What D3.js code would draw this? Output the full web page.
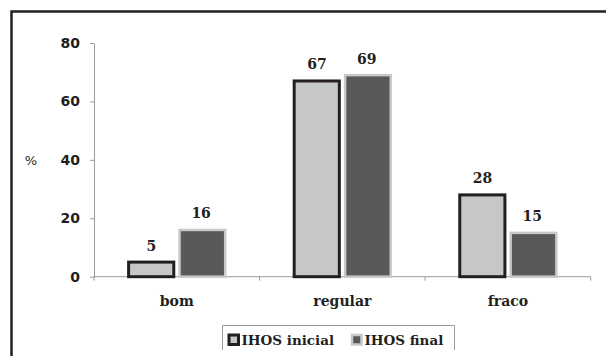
<!DOCTYPE html>
<html>
<head>
<meta charset="utf-8">
<script src="https://cdn.jsdelivr.net/npm/d3@7"></script>
<style>
  body { margin: 0; background: #fff; }
  svg { display: block; }
</style>
</head>
<body>
<svg width="606" height="356"></svg>
<script>
var categories = ['bom', 'regular', 'fraco'];
var series = ['IHOS inicial', 'IHOS final'];
var inicial = [5, 67, 28];
var final = [16, 69, 15];
var yTicks = [0, 20, 40, 60, 80];

var svg = d3.select('svg');
var ink = '#231f20';

// outer frame (only top and left edges visible)
svg.append('path')
   .attr('d', 'M11.5,356 L11.5,11.5 L606,11.5')
   .attr('fill', 'none')
   .attr('stroke', ink)
   .attr('stroke-width', 2.5);

var y = d3.scaleLinear().domain([0, 80]).range([276.7, 43]);
var x0 = d3.scaleBand().domain(categories).range([94, 590.7]);
var bw = x0.bandwidth();
var x1 = d3.scaleBand().domain(series).range([bw * 0.2, bw * 0.8]);
var sw = x1.bandwidth();

// y axis
var yAxis = svg.append('g')
   .attr('transform', 'translate(94,0)')
   .call(d3.axisLeft(y).tickValues(yTicks).tickSize(4).tickSizeOuter(0).tickPadding(10));
yAxis.selectAll('path, line').attr('stroke', '#9a9a9a');
yAxis.selectAll('text')
     .attr('font-family', 'DejaVu Sans')
     .attr('font-weight', 'bold')
     .attr('font-size', '14px')
     .attr('fill', ink);

// x axis line and ticks at band edges
svg.append('line')
   .attr('x1', x0.range()[0]).attr('x2', x0.range()[1])
   .attr('y1', y(0)).attr('y2', y(0))
   .attr('stroke', '#9a9a9a');
var edges = categories.map(function(c) { return x0(c); }).concat([x0.range()[1]]);
svg.selectAll('.xtick').data(edges).enter().append('line')
   .attr('class', 'xtick')
   .attr('x1', function(d) { return d; }).attr('x2', function(d) { return d; })
   .attr('y1', y(0)).attr('y2', y(0) + 4)
   .attr('stroke', '#9a9a9a');

svg.selectAll('.cat').data(categories).enter().append('text')
   .attr('class', 'cat')
   .attr('x', function(d) { return x0(d) + bw / 2; })
   .attr('y', 305.5)
   .attr('text-anchor', 'middle')
   .attr('font-family', 'DejaVu Serif')
   .attr('font-weight', 'bold')
   .attr('font-size', '14px')
   .attr('fill', ink)
   .text(function(d) { return d; });

// % label
svg.append('text')
   .attr('x', 31).attr('y', y(40) + 5)
   .attr('text-anchor', 'middle')
   .attr('font-family', 'DejaVu Sans')
   .attr('font-size', '13px')
   .attr('fill', ink)
   .text('%');

// bars
var styles = {
  'IHOS inicial': {fill: '#c6c7c9', stroke: ink, sw: 3},
  'IHOS final': {fill: '#58595b', stroke: '#c9c9c9', sw: 2.5}
};
var values = {'IHOS inicial': inicial, 'IHOS final': final};

series.forEach(function(s) {
  var st = styles[s];
  var g = svg.append('g');
  g.selectAll('rect').data(values[s]).enter().append('rect')
   .attr('x', function(d, i) { return x0(categories[i]) + x1(s) + (s === 'IHOS inicial' ? 1.5 : 2.75); })
   .attr('width', s === 'IHOS inicial' ? sw - 4.5 : sw - 4)
   .attr('y', function(d) { return y(d); })
   .attr('height', function(d) { return y(0) - y(d); })
   .attr('fill', st.fill)
   .attr('stroke', st.stroke)
   .attr('stroke-width', st.sw);
  g.selectAll('text').data(values[s]).enter().append('text')
   .attr('x', function(d, i) { return x0(categories[i]) + x1(s) + sw / 2 - 0.5; })
   .attr('y', function(d) { return y(d) - 11.5; })
   .attr('text-anchor', 'middle')
   .attr('font-family', 'DejaVu Serif')
   .attr('font-weight', 'bold')
   .attr('font-size', '14px')
   .attr('fill', ink)
   .text(function(d) { return d; });
});

// legend
var lg = svg.append('g');
lg.append('path')
  .attr('d', 'M222.5,350 L222.5,325.5 L454.5,325.5 L454.5,350')
  .attr('fill', 'none')
  .attr('stroke', '#9a9a9a');
var legendX = [229, 352];
series.forEach(function(s, i) {
  var st = styles[s];
  lg.append('rect')
    .attr('x', legendX[i]).attr('y', 335)
    .attr('width', 9.5).attr('height', 9.5)
    .attr('fill', st.fill)
    .attr('stroke', st.stroke)
    .attr('stroke-width', st.sw);
  lg.append('text')
    .attr('x', legendX[i] + 12.5).attr('y', 345)
    .attr('font-family', 'DejaVu Serif')
    .attr('font-weight', 'bold')
    .attr('font-size', '13.5px')
    .attr('fill', ink)
    .text(s);
});
</script>
</body>
</html>
